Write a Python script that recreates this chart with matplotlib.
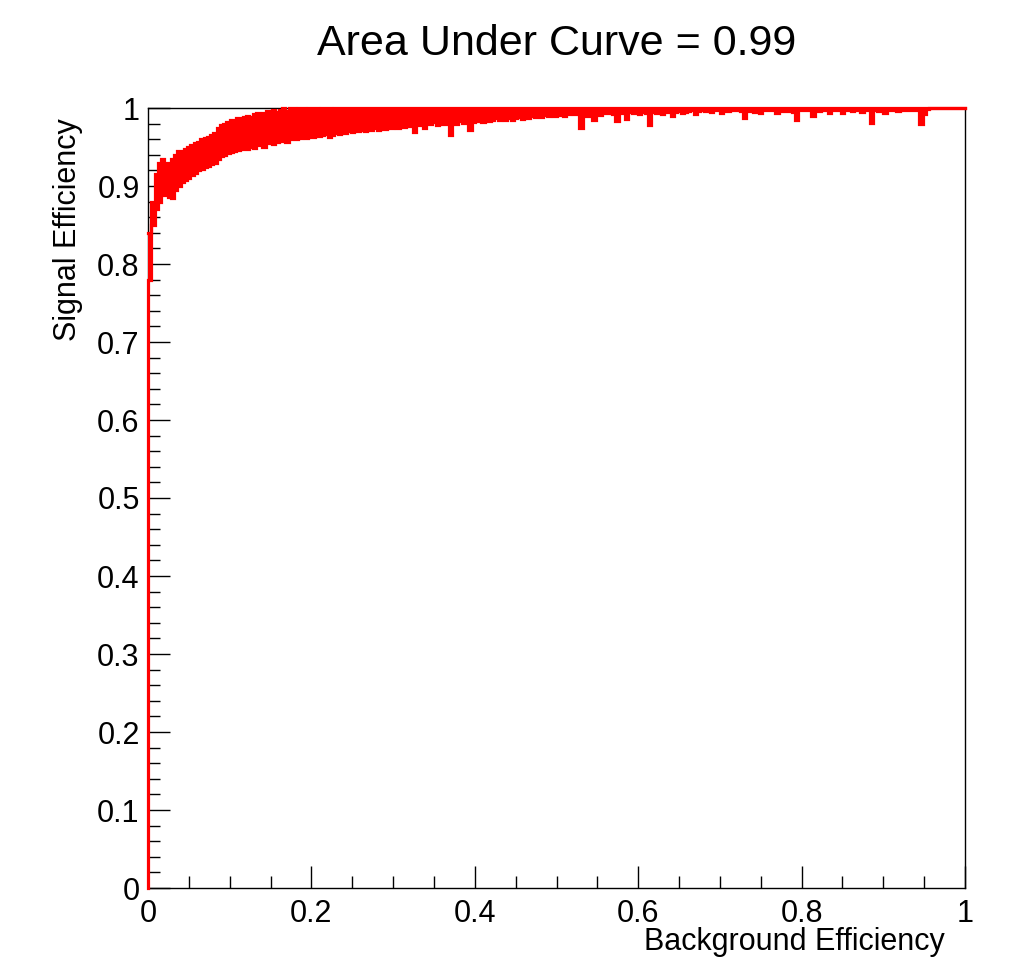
import numpy as np
import matplotlib
matplotlib.use("Agg")
import matplotlib.pyplot as plt
from matplotlib.ticker import MultipleLocator, FuncFormatter

plt.rcParams['font.family'] = ['Liberation Sans', 'DejaVu Sans']

title = "Area Under Curve = 0.99"
xlabel = "Background Efficiency"
ylabel = "Signal Efficiency"
bin_width = 0.004

# upper edge of the (noisy) signal-efficiency band per 0.004 bin of background efficiency
sig_eff_high = [
    0.84, 0.88, 0.915, 0.93, 0.935, 0.93, 0.93, 0.935, 0.94, 0.945,
    0.945, 0.948, 0.95, 0.952, 0.955, 0.957, 0.96, 0.962, 0.963, 0.965,
    0.968, 0.975, 0.978, 0.98, 0.982, 0.985, 0.984, 0.987, 0.986, 0.988,
    0.99, 0.988, 0.992, 0.994, 0.99, 0.994, 0.996, 0.993, 0.997, 0.995,
    0.998, 1.0, 0.996, 1.0, 1.0, 0.998, 1.0, 1.0, 0.999, 1.0,
    1.0, 1.0, 0.998, 1.0, 1.0, 1.0, 0.997, 1.0, 1.0, 1.0,
    1.0, 1.0, 1.0, 1.0, 1.0, 1.0, 1.0, 1.0, 1.0, 1.0,
    1.0, 1.0, 1.0, 1.0, 1.0, 1.0, 1.0, 1.0, 1.0, 1.0,
    1.0, 1.0, 1.0, 1.0, 1.0, 1.0, 1.0, 1.0, 1.0, 1.0,
    1.0, 1.0, 1.0, 1.0, 1.0, 1.0, 1.0, 1.0, 1.0, 1.0,
    1.0, 1.0, 1.0, 1.0, 1.0, 1.0, 1.0, 1.0, 1.0, 1.0,
    1.0, 1.0, 1.0, 1.0, 1.0, 1.0, 1.0, 1.0, 1.0, 1.0,
    1.0, 1.0, 1.0, 1.0, 1.0, 1.0, 1.0, 1.0, 1.0, 1.0,
    1.0, 1.0, 1.0, 1.0, 1.0, 1.0, 1.0, 1.0, 1.0, 1.0,
    1.0, 1.0, 1.0, 1.0, 1.0, 1.0, 1.0, 1.0, 1.0, 1.0,
    1.0, 1.0, 1.0, 1.0, 1.0, 1.0, 1.0, 1.0, 1.0, 1.0,
    1.0, 1.0, 1.0, 1.0, 1.0, 1.0, 1.0, 1.0, 1.0, 1.0,
    1.0, 1.0, 1.0, 1.0, 1.0, 1.0, 1.0, 1.0, 1.0, 1.0,
    1.0, 1.0, 1.0, 1.0, 1.0, 1.0, 1.0, 1.0, 1.0, 1.0,
    1.0, 1.0, 1.0, 1.0, 1.0, 1.0, 1.0, 1.0, 1.0, 1.0,
    1.0, 1.0, 1.0, 1.0, 1.0, 1.0, 1.0, 1.0, 1.0, 1.0,
    1.0, 1.0, 1.0, 1.0, 1.0, 1.0, 1.0, 1.0, 1.0, 1.0,
    1.0, 1.0, 1.0, 1.0, 1.0, 1.0, 1.0, 1.0, 1.0, 1.0,
    1.0, 1.0, 1.0, 1.0, 1.0, 1.0, 1.0, 1.0, 1.0, 1.0,
    1.0, 1.0, 1.0, 1.0, 1.0, 1.0, 1.0, 1.0, 1.0, 1.0,
]

# lower edge of the band per bin
sig_eff_low = [
    0.78, 0.85, 0.87, 0.88, 0.89, 0.888, 0.886, 0.885, 0.895, 0.90,
    0.905, 0.908, 0.91, 0.914, 0.917, 0.92, 0.922, 0.924, 0.926, 0.928,
    0.93, 0.935, 0.938, 0.94, 0.942, 0.944, 0.945, 0.946, 0.947, 0.948,
    0.948, 0.95, 0.949, 0.952, 0.953, 0.95, 0.955, 0.956, 0.954, 0.957,
    0.958, 0.959, 0.957, 0.96, 0.961, 0.96, 0.962, 0.963, 0.961, 0.964,
    0.963, 0.965, 0.964, 0.966, 0.967, 0.963, 0.966, 0.968, 0.967, 0.969,
    0.968, 0.97, 0.969, 0.971, 0.97, 0.972, 0.97, 0.973, 0.972, 0.974,
    0.972, 0.975, 0.973, 0.976, 0.974, 0.977, 0.975, 0.978, 0.976, 0.979,
    0.977, 0.969, 0.98, 0.978, 0.975, 0.981, 0.979, 0.982, 0.978, 0.98,
    0.981, 0.979, 0.966, 0.982, 0.98, 0.983, 0.981, 0.984, 0.972, 0.982,
    0.983, 0.985, 0.982, 0.986, 0.983, 0.985, 0.987, 0.984, 0.986, 0.985,
    0.987, 0.985, 0.987, 0.988, 0.986, 0.989, 0.987, 0.99, 0.988, 0.99,
    0.989, 0.991, 0.99, 0.992, 0.99, 0.991, 0.993, 0.99, 0.992, 0.994,
    0.992, 0.993, 0.974, 0.992, 0.99, 0.993, 0.985, 0.992, 0.991, 0.994,
    0.993, 0.995, 0.992, 0.983, 0.994, 0.993, 0.986, 0.995, 0.994, 0.993,
    0.992, 0.995, 0.994, 0.978, 0.995, 0.994, 0.996, 0.992, 0.995, 0.996,
    0.99, 0.995, 0.996, 0.993, 0.995, 0.996, 0.997, 0.992, 0.996, 0.997,
    0.996, 0.997, 0.995, 0.997, 0.998, 0.993, 0.997, 0.996, 0.997, 0.998,
    0.997, 0.996, 0.987, 0.997, 0.996, 0.995, 0.998, 0.993, 0.997, 0.998,
    0.997, 0.998, 0.994, 0.996, 0.998, 0.996, 0.997, 0.995, 0.984, 0.997,
    0.997, 0.998, 0.997, 0.99, 0.998, 0.996, 0.998, 0.997, 0.994, 0.998,
    0.997, 0.998, 0.993, 0.997, 0.998, 0.996, 0.998, 0.997, 0.995, 0.998,
    0.997, 0.981, 0.998, 0.996, 0.998, 0.994, 0.998, 0.997, 0.998, 0.996,
    0.998, 0.997, 0.998, 0.997, 0.998, 0.998, 0.98, 0.992, 0.999, 1.0,
    1.0, 1.0, 1.0, 1.0, 1.0, 1.0, 1.0, 1.0, 1.0, 1.0,
]

red = '#ff0000'
lw = 2.3

fig = plt.figure(figsize=(10.16, 9.6), dpi=100)
ax = fig.add_axes([148/1016, 1 - 888/960, (965-148)/1016, (888-108)/960])

n = len(sig_eff_high)
edges = np.arange(n + 1) * bin_width
hi_ext = list(sig_eff_high) + [sig_eff_high[-1]]
lo_ext = list(sig_eff_low) + [sig_eff_low[-1]]

ax.fill_between(edges, lo_ext, hi_ext, step='post', color=red, linewidth=0,
                zorder=3, clip_on=False)
ax.step(edges, hi_ext, where='post', color=red, linewidth=lw, zorder=4,
        clip_on=False, solid_joinstyle='miter')
ax.step(np.concatenate([[0.0], edges]), [0.0] + lo_ext, where='post', color=red,
        linewidth=lw, zorder=4, clip_on=False, solid_joinstyle='miter')

ax.set_xlim(0, 1)
ax.set_ylim(0, 1)

ax.xaxis.set_major_locator(MultipleLocator(0.2))
ax.xaxis.set_minor_locator(MultipleLocator(0.05))
ax.yaxis.set_major_locator(MultipleLocator(0.1))
ax.yaxis.set_minor_locator(MultipleLocator(0.02))


def fmt(v, pos):
    if abs(v) < 1e-9:
        return '0'
    if abs(v - 1) < 1e-9:
        return '1'
    return '%.1f' % v


ax.xaxis.set_major_formatter(FuncFormatter(fmt))
ax.yaxis.set_major_formatter(FuncFormatter(fmt))

ax.tick_params(which='both', direction='in', top=False, right=False, width=1.0, colors='black')
ax.tick_params(which='major', length=16)
ax.tick_params(which='minor', length=8.5)
ax.tick_params(axis='x', which='major', labelsize=22, pad=8)
ax.tick_params(axis='y', which='major', labelsize=22, pad=6)

for s in ax.spines.values():
    s.set_linewidth(1.0)
    s.set_color('black')

fig.text(945/1016, 1 - 942/960, xlabel, ha='right', va='center', fontsize=22)
fig.text(68/1016, 1 - 118/960, ylabel, ha='center', va='top', rotation=90, fontsize=22)
fig.text(557/1016, 1 - 44/960, title, ha='center', va='center', fontsize=31)

fig.savefig('out.png', dpi=100, facecolor='white')
